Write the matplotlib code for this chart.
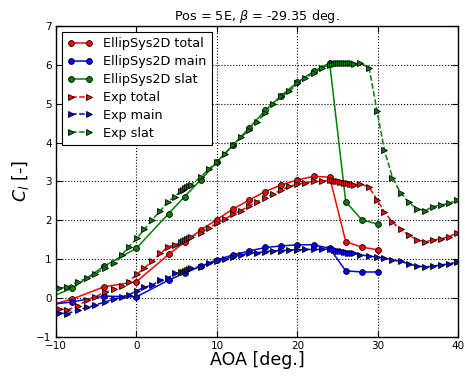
import numpy as np
import matplotlib
matplotlib.use('Agg')
import matplotlib.pyplot as plt

# EllipSys2D simulation points
aoa_sim = [-12, -8, -4, 0, 4, 6, 8, 10, 12, 14, 16, 18, 20, 22, 24, 26, 28, 30]
cl_sim_total = [-0.25, -0.03, 0.29, 0.42, 1.12, 1.44, 1.75, 2.02, 2.29, 2.52, 2.74, 2.91,
                3.04, 3.13, 3.11, 1.45, 1.31, 1.24]
cl_sim_main = [-0.20, -0.10, 0.05, 0.03, 0.46, 0.64, 0.82, 0.98, 1.11, 1.21, 1.30, 1.34,
               1.37, 1.37, 1.28, 0.70, 0.67, 0.67]
cl_sim_slat = [-0.09, 0.25, 0.82, 1.28, 2.17, 2.61, 3.04, 3.50, 3.94, 4.37, 4.83, 5.21,
               5.55, 5.83, 6.05, 2.48, 2.01, 1.90]

# experimental points
aoa_exp = [-9.6, -8.6, -7.3, -6.1, -5.1, -3.9, -2.8, -1.8, -0.96, 0.1, 1.0, 1.95, 3.0, 3.9, 4.8,
           5.5, 5.75, 6.0, 6.25, 6.5, 6.75,
           8, 9, 10, 11, 12, 13, 14, 15, 16, 17, 18, 19, 20, 21, 22, 23,
           24.0, 24.25, 24.5, 24.75, 25.0, 25.25, 25.5, 25.75, 26.0, 26.25, 26.5, 26.75, 27.0,
           27.8, 28.9, 29.9, 30.8, 31.8, 32.8, 33.8, 34.9, 35.9, 36.8, 37.8, 38.8, 39.8]
cl_exp_total = [-0.27, -0.31, -0.21, -0.05, 0.03, 0.15, 0.22, 0.30, 0.42, 0.62, 0.77, 0.94, 1.15, 1.32, 1.37,
                1.43, 1.46, 1.49, 1.52, 1.55, 1.58,
                1.67, 1.80, 1.93, 2.03, 2.16, 2.25, 2.37, 2.48, 2.57, 2.68, 2.78, 2.87, 2.93, 2.97, 3.00, 3.00,
                3.03, 3.03, 3.02, 3.01, 3.00, 2.99, 2.98, 2.97, 2.96, 2.95, 2.94, 2.93, 2.92,
                2.94, 2.85, 2.53, 2.21, 1.95, 1.77, 1.62, 1.49, 1.45, 1.49, 1.52, 1.58, 1.67]
cl_exp_main = [-0.38, -0.41, -0.31, -0.24, -0.18, -0.10, -0.03, 0.03, 0.08, 0.19, 0.28, 0.33, 0.46, 0.51, 0.64,
               0.66, 0.68, 0.70, 0.72, 0.74, 0.76,
               0.81, 0.89, 0.95, 1.00, 1.06, 1.11, 1.15, 1.17, 1.19, 1.22, 1.22, 1.24, 1.24, 1.25, 1.25, 1.25,
               1.26, 1.25, 1.24, 1.23, 1.22, 1.21, 1.20, 1.19, 1.18, 1.17, 1.16, 1.15, 1.15,
               1.11, 1.08, 1.05, 1.03, 0.98, 0.94, 0.88, 0.82, 0.80, 0.82, 0.85, 0.88, 0.92]
cl_exp_slat = [0.25, 0.28, 0.42, 0.51, 0.62, 0.77, 0.89, 1.11, 1.32, 1.54, 1.77, 2.01, 2.25, 2.48, 2.61,
               2.75, 2.79, 2.83, 2.86, 2.89, 2.92,
               3.11, 3.32, 3.51, 3.70, 3.94, 4.13, 4.33, 4.54, 4.76, 4.99, 5.19, 5.32, 5.52, 5.66, 5.79, 5.92,
               6.00, 6.02, 6.03, 6.04, 6.05, 6.05, 6.05, 6.05, 6.05, 6.05, 6.04, 6.04, 6.03,
               6.05, 5.92, 4.80, 3.81, 3.10, 2.71, 2.46, 2.29, 2.25, 2.35, 2.39, 2.44, 2.51]

green = (0, 0.5, 0)

fig = plt.figure(figsize=(4.65, 3.76), dpi=100)
ax = fig.add_axes([0.120, 0.104, 0.866, 0.827])

ms_o = 4.2
ms_t = 4.8
lw = 1.1
ax.plot(aoa_sim, cl_sim_total, '-o', color='r', mec='k', mew=0.6, ms=ms_o, lw=lw, label='EllipSys2D total')
ax.plot(aoa_sim, cl_sim_main, '-o', color='b', mec='k', mew=0.6, ms=ms_o, lw=lw, label='EllipSys2D main')
ax.plot(aoa_sim, cl_sim_slat, '-o', color=green, mec='k', mew=0.6, ms=ms_o, lw=lw, label='EllipSys2D slat')
ax.plot(aoa_exp, cl_exp_total, '-->', color='r', mec='k', mew=0.6, ms=ms_t, lw=lw, label='Exp total')
ax.plot(aoa_exp, cl_exp_main, '-->', color='b', mec='k', mew=0.6, ms=ms_t, lw=lw, label='Exp main')
ax.plot(aoa_exp, cl_exp_slat, '-->', color=green, mec='k', mew=0.6, ms=ms_t, lw=lw, label='Exp slat')

ax.set_xlim(-10, 40)
ax.set_ylim(-1, 7)
ax.set_xticks([-10, 0, 10, 20, 30, 40])
ax.set_yticks(np.arange(-1, 8, 1))
ax.tick_params(direction='in', top=True, right=True, labelsize=7.5, length=4, width=0.8, pad=3)
ax.set_xticklabels(['\u221210', '0', '10', '20', '30', '40'])
ax.set_yticklabels(['\u22121', '0', '1', '2', '3', '4', '5', '6', '7'])
for s in ax.spines.values():
    s.set_linewidth(1.0)
ax.grid(True, color='k', linestyle=':', linewidth=0.8)

ax.set_xlabel('AOA [deg.]', fontsize=12.5, labelpad=0)
ax.set_ylabel('$C_l$ [-]', fontsize=12.5, labelpad=4)
ax.set_title(r'Pos = 5E, $\beta$ = -29.35 deg.', fontsize=9.2, pad=4)

leg = ax.legend(loc='upper left', numpoints=2, fontsize=9.2, fancybox=False, framealpha=1,
                edgecolor='k', borderaxespad=0.5, handlelength=2.0, labelspacing=0.38,
                borderpad=0.4, handletextpad=0.8)
leg.get_frame().set_linewidth(0.8)

fig.savefig('out.png', dpi=100)
